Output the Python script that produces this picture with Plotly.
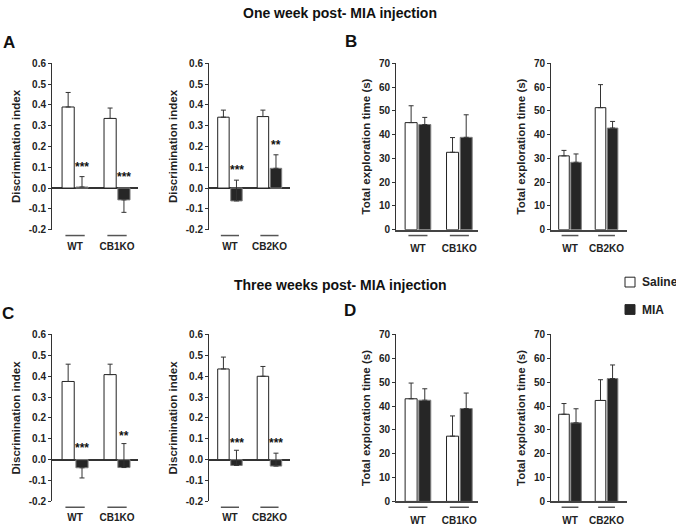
import plotly.graph_objects as go

W, H = 676, 527
FONT = "Liberation Sans, Arial, sans-serif"

groups_cb1 = ["WT", "CB1KO"]
groups_cb2 = ["WT", "CB2KO"]
group_pos = [0, 1]

di_ticks = [-0.2, -0.1, 0.0, 0.1, 0.2, 0.3, 0.4, 0.5, 0.6]
di_ticktext = ["-0.2", "-0.1", "0.0", "0.1", "0.2", "0.3", "0.4", "0.5", "0.6"]
time_ticks = [0, 10, 20, 30, 40, 50, 60, 70]

# error values: positive = bar drawn upward, negative = drawn downward
# one week post-MIA, discrimination index
di_w1_cb1_saline = [0.39, 0.335]
di_w1_cb1_saline_err = [0.07, 0.05]
di_w1_cb1_mia = [0.005, -0.057]
di_w1_cb1_mia_err = [0.05, -0.06]
di_w1_cb1_stars = ["***", "***"]
di_w1_cb1_star_y = [0.10, 0.055]

di_w1_cb2_saline = [0.341, 0.344]
di_w1_cb2_saline_err = [0.034, 0.031]
di_w1_cb2_mia = [-0.062, 0.095]
di_w1_cb2_mia_err = [0.10, 0.065]
di_w1_cb2_stars = ["***", "**"]
di_w1_cb2_star_y = [0.085, 0.205]

# one week post-MIA, total exploration time
t_w1_cb1_saline = [45.1, 32.6]
t_w1_cb1_saline_err = [7.1, 6.2]
t_w1_cb1_mia = [44.3, 38.9]
t_w1_cb1_mia_err = [3.0, 9.5]

t_w1_cb2_saline = [31.1, 51.4]
t_w1_cb2_saline_err = [2.3, 9.7]
t_w1_cb2_mia = [28.4, 42.8]
t_w1_cb2_mia_err = [3.5, 2.8]

# three weeks post-MIA, discrimination index
di_w3_cb1_saline = [0.375, 0.408]
di_w3_cb1_saline_err = [0.083, 0.05]
di_w3_cb1_mia = [-0.039, -0.038]
di_w3_cb1_mia_err = [-0.049, 0.115]
di_w3_cb1_stars = ["***", "**"]
di_w3_cb1_star_y = [0.055, 0.115]

di_w3_cb2_saline = [0.435, 0.40]
di_w3_cb2_saline_err = [0.057, 0.047]
di_w3_cb2_mia = [-0.028, -0.031]
di_w3_cb2_mia_err = [0.073, 0.062]
di_w3_cb2_stars = ["***", "***"]
di_w3_cb2_star_y = [0.08, 0.08]

# three weeks post-MIA, total exploration time
t_w3_cb1_saline = [43.1, 27.4]
t_w3_cb1_saline_err = [6.6, 8.5]
t_w3_cb1_mia = [42.5, 39.0]
t_w3_cb1_mia_err = [4.8, 6.5]

t_w3_cb2_saline = [36.6, 42.4]
t_w3_cb2_saline_err = [4.5, 8.7]
t_w3_cb2_mia = [33.0, 51.6]
t_w3_cb2_mia_err = [5.9, 5.7]


def px_x(a, b):
    return [a / W, b / W]


def px_y(top, bottom):
    return [1 - bottom / H, 1 - top / H]


col_dom = [px_x(52, 138), px_x(209, 290), px_x(396, 478), px_x(551, 627)]
col_range = [[-0.55, 1.5], [-0.53, 1.52], [-0.53, 1.45], [-0.52, 1.56]]
row_dom = [px_y(59.5, 229.5), px_y(336.5, 507)]

SAL_COLOR, SAL_LINE = "white", "#222222"
MIA_COLOR, MIA_LINE = "#262626", "#808080"


def err_bars(errs):
    up = [e if e > 0 else 0 for e in errs]
    down = [-e if e < 0 else 0 for e in errs]
    return dict(type="data", symmetric=False, array=up, arrayminus=down,
                width=2.5, thickness=1, color="#333333")


fig = go.Figure()


def add_panel(n, row, col, groups, sal, sal_err, mia, mia_err, kind,
              stars=None, star_y=None):
    xa = "x" if n == 1 else f"x{n}"
    ya = "y" if n == 1 else f"y{n}"
    fig.add_trace(go.Bar(
        x=group_pos, y=sal, width=0.29, offset=-0.31,
        marker=dict(color=SAL_COLOR, line=dict(color=SAL_LINE, width=1)),
        error_y=err_bars(sal_err), name="Saline", showlegend=False,
        xaxis=xa, yaxis=ya))
    fig.add_trace(go.Bar(
        x=group_pos, y=mia, width=0.29, offset=0.02,
        marker=dict(color=MIA_COLOR, line=dict(color=MIA_LINE, width=1)),
        error_y=err_bars(mia_err), name="MIA", showlegend=False,
        xaxis=xa, yaxis=ya))

    key = "" if n == 1 else str(n)
    xaxis = dict(domain=col_dom[col], range=col_range[col], anchor=ya,
                 tickvals=group_pos, ticktext=groups, ticks="",
                 ticklabelstandoff=9, showgrid=False, zeroline=False,
                 tickfont=dict(family=FONT, size=10, color="#222", weight="bold"))
    yaxis = dict(domain=row_dom[row], anchor=xa, showgrid=False,
                 showline=True, linecolor="#333", linewidth=1,
                 ticks="outside", ticklen=3, tickcolor="#333",
                 tickfont=dict(family=FONT, size=10, color="#222", weight="bold"),
                 title=dict(font=dict(family=FONT, size=11.5, color="#222",
                                      weight="bold"), standoff=5))
    if kind == "di":
        xaxis.update(showline=False)
        yaxis.update(range=[-0.2005, 0.6005], tickvals=di_ticks,
                     ticktext=di_ticktext, zeroline=True,
                     zerolinecolor="#333", zerolinewidth=1.5)
        yaxis["title"]["text"] = "Discrimination index"
    else:
        xaxis.update(showline=True, linecolor="#444", linewidth=1.5)
        yaxis.update(range=[0, 70.1], tickvals=time_ticks, zeroline=False)
        yaxis["title"]["text"] = "Total exploration time (s)"
    fig.layout["xaxis" + key] = xaxis
    fig.layout["yaxis" + key] = yaxis

    for g in group_pos:
        fig.add_shape(type="line", xref=xa, yref=f"{ya} domain",
                      x0=g - 0.23, x1=g + 0.23, y0=-0.035, y1=-0.035,
                      line=dict(color="#555", width=1.5))
    if stars:
        for g, s, sy in zip(group_pos, stars, star_y):
            fig.add_annotation(x=g + 0.17, y=sy, xref=xa, yref=ya, text=s,
                               showarrow=False, yanchor="middle",
                               font=dict(family=FONT, size=12, color="#111",
                                         weight="bold"))


add_panel(1, 0, 0, groups_cb1, di_w1_cb1_saline, di_w1_cb1_saline_err,
          di_w1_cb1_mia, di_w1_cb1_mia_err, "di",
          di_w1_cb1_stars, di_w1_cb1_star_y)
add_panel(2, 0, 1, groups_cb2, di_w1_cb2_saline, di_w1_cb2_saline_err,
          di_w1_cb2_mia, di_w1_cb2_mia_err, "di",
          di_w1_cb2_stars, di_w1_cb2_star_y)
add_panel(3, 0, 2, groups_cb1, t_w1_cb1_saline, t_w1_cb1_saline_err,
          t_w1_cb1_mia, t_w1_cb1_mia_err, "time")
add_panel(4, 0, 3, groups_cb2, t_w1_cb2_saline, t_w1_cb2_saline_err,
          t_w1_cb2_mia, t_w1_cb2_mia_err, "time")
add_panel(5, 1, 0, groups_cb1, di_w3_cb1_saline, di_w3_cb1_saline_err,
          di_w3_cb1_mia, di_w3_cb1_mia_err, "di",
          di_w3_cb1_stars, di_w3_cb1_star_y)
add_panel(6, 1, 1, groups_cb2, di_w3_cb2_saline, di_w3_cb2_saline_err,
          di_w3_cb2_mia, di_w3_cb2_mia_err, "di",
          di_w3_cb2_stars, di_w3_cb2_star_y)
add_panel(7, 1, 2, groups_cb1, t_w3_cb1_saline, t_w3_cb1_saline_err,
          t_w3_cb1_mia, t_w3_cb1_mia_err, "time")
add_panel(8, 1, 3, groups_cb2, t_w3_cb2_saline, t_w3_cb2_saline_err,
          t_w3_cb2_mia, t_w3_cb2_mia_err, "time")


def paper(x, y):
    return dict(x=x / W, y=1 - y / H, xref="paper", yref="paper",
                showarrow=False, yanchor="middle")


# row titles and panel letters
for text, y in [("One week post- MIA injection", 8),
                ("Three weeks post- MIA injection", 286)]:
    fig.add_annotation(**paper(340, y), text=f"<b>{text}</b>", xanchor="center",
                       font=dict(family=FONT, size=14, color="#111"))
for text, x, y in [("A", 9, 38), ("B", 351, 37), ("C", 8, 315), ("D", 350, 312)]:
    fig.add_annotation(**paper(x, y), text=f"<b>{text}</b>", xanchor="center",
                       font=dict(family=FONT, size=17, color="#111"))

# legend drawn by hand (plotly's symbol/text gap is too wide here)
for name, fill, edge, y in [("Saline", SAL_COLOR, SAL_LINE, 283),
                            ("MIA", MIA_COLOR, MIA_COLOR, 311)]:
    fig.add_shape(type="rect", xref="paper", yref="paper",
                  x0=625 / W, x1=635 / W, y0=1 - (y - 5) / H, y1=1 - (y + 5) / H,
                  fillcolor=fill, line=dict(color=edge, width=1))
    fig.add_annotation(**paper(640, y), text=f"<b>{name}</b>", xanchor="left",
                       font=dict(family=FONT, size=12, color="#222"))

fig.update_layout(
    width=W, height=H,
    margin=dict(l=0, r=0, t=0, b=0),
    plot_bgcolor="white", paper_bgcolor="white",
    barmode="overlay",
    showlegend=False,
)

fig.write_html("out.html", config={"displayModeBar": False},
               post_script="document.body.style.margin='0';")
